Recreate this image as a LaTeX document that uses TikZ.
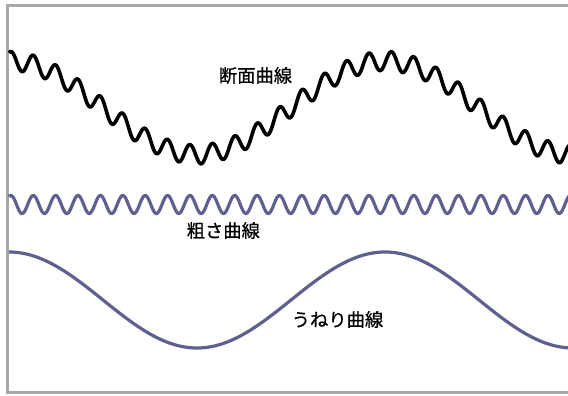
\documentclass[tikz,border=0pt]{standalone}
\usepackage{fontspec}
\newfontfamily\jp[FakeBold=0.7]{Noto Sans CJK JP}
\definecolor{framegray}{RGB}{168,168,168}
\definecolor{wavepurple}{RGB}{96,96,144}
\tikzset{
  framebox/.style={draw=framegray, line width=3pt},
  profileline/.style={draw=black, line width=3.6pt, line join=round},
  purpleline/.style={draw=wavepurple, line width=3.2pt, line join=round},
  label/.style={font=\jp\fontsize{18.3}{20}\selectfont, inner sep=0pt, text=black},
}
\begin{document}
\begin{tikzpicture}[x=1pt, y=-1pt]
  \useasboundingbox (0,0) rectangle (568,396);
  \fill[white] (0,0) rectangle (568,396);
  \begin{scope}
    \clip (0,0) rectangle (568,396);
    \draw[framebox] (7.5,5.5) rectangle (590,392);
    % profile (sectional) curve = waviness + roughness
    \draw[profileline] plot[domain=9:572, samples=900, variable=\x]
      ({\x},{107.7 - 46.7*cos(0.957447*(\x-9)) - 9.5*cos(16.08579*(\x-33.3))});
    % roughness curve
    \draw[purpleline] plot[domain=9:572, samples=900, variable=\x]
      ({\x},{204.5 - 9*cos(16.08579*(\x-33.3))});
    % waviness curve
    \draw[purpleline] plot[domain=9:572, samples=400, variable=\x]
      ({\x},{300 - 48*cos(0.957447*(\x-9))});
  \end{scope}
  \node[label] (profile) at (255.5,75.5) {断面曲線};
  \node[label] (rough) at (223.3,230.5) {粗さ曲線};
  \node[label] (wavy) at (337.5,319.5) {うねり曲線};
\end{tikzpicture}
\end{document}
